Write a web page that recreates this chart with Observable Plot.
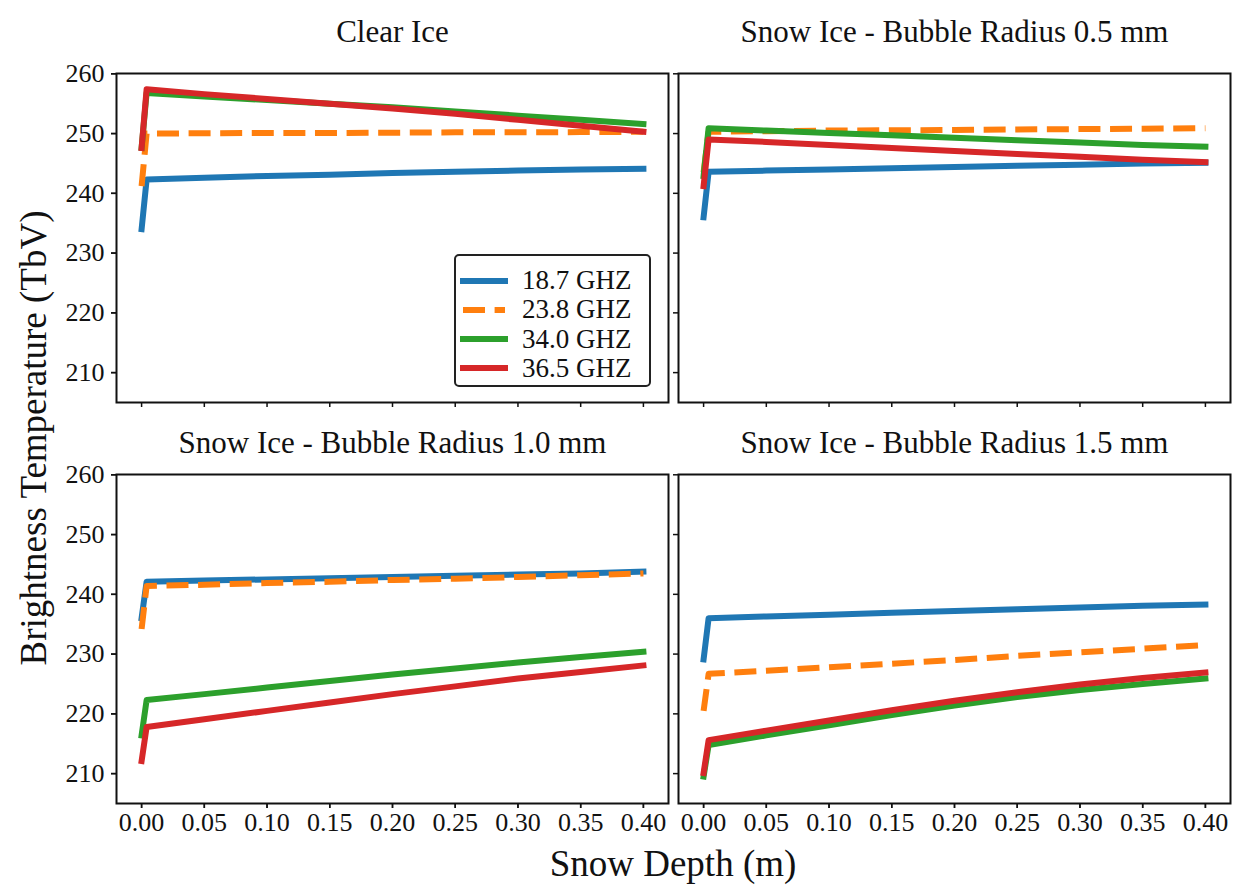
<!DOCTYPE html>
<html>
<head>
<meta charset="utf-8">
<script src="https://cdn.jsdelivr.net/npm/d3@7"></script>
<script src="https://cdn.jsdelivr.net/npm/@observablehq/plot@0.6"></script>
<style>
  body { margin: 0; background: white; }
  #wrap { position: relative; width: 1236px; height: 888px; font-family: 'Liberation Serif', serif; }
  #legend { position: absolute; left: 454px; top: 254px; width: 193px; height: 129px; border: 2px solid #222; border-radius: 5px; background: white; box-sizing: content-box; }
  .lrow { position: absolute; left: 0; height: 29px; display: flex; align-items: center; font-size: 27px; color: #111; white-space: nowrap; }
  .lrow svg { margin-left: 4px; margin-right: 14px; }
</style>
</head>
<body>
<div id="wrap"></div>
<script>
// ---- data ----
const depths = [0, 0.004, 0.05, 0.1, 0.15, 0.2, 0.25, 0.3, 0.35, 0.4];
const freqs = ["18.7 GHZ", "23.8 GHZ", "34.0 GHZ", "36.5 GHZ"];
const colors = ["#1f77b4", "#ff7f0e", "#2ca02c", "#d62728"];
const panelTitles = ["Clear Ice", "Snow Ice - Bubble Radius 0.5 mm", "Snow Ice - Bubble Radius 1.0 mm", "Snow Ice - Bubble Radius 1.5 mm"];
const xTicks = [0, 0.05, 0.1, 0.15, 0.2, 0.25, 0.3, 0.35, 0.4];
const yTicks = [210, 220, 230, 240, 250, 260];

// Clear Ice
const clear187 = [234.0, 242.3, 242.6, 242.9, 243.1, 243.4, 243.6, 243.8, 244.0, 244.1];
const clear238 = [241.2, 250.0, 250.05, 250.1, 250.1, 250.15, 250.2, 250.2, 250.25, 250.3];
const clear340 = [247.6, 256.8, 256.2, 255.6, 255.0, 254.4, 253.7, 253.0, 252.3, 251.6];
const clear365 = [247.6, 257.4, 256.6, 255.8, 255.0, 254.2, 253.3, 252.3, 251.3, 250.3];
// Snow Ice, bubble radius 0.5 mm
const r05_187 = [236.0, 243.6, 243.8, 244.0, 244.2, 244.4, 244.6, 244.8, 245.0, 245.1];
const r05_238 = [243.5, 250.3, 250.4, 250.5, 250.55, 250.6, 250.7, 250.75, 250.8, 250.9];
const r05_340 = [242.9, 250.9, 250.5, 250.1, 249.7, 249.3, 248.9, 248.5, 248.1, 247.8];
const r05_365 = [241.2, 249.0, 248.6, 248.1, 247.6, 247.1, 246.6, 246.1, 245.6, 245.2];
// Snow Ice, bubble radius 1.0 mm
const r10_187 = [236.0, 242.1, 242.3, 242.5, 242.7, 242.9, 243.1, 243.3, 243.5, 243.8];
const r10_238 = [234.2, 241.4, 241.6, 241.9, 242.1, 242.4, 242.6, 242.9, 243.2, 243.5];
const r10_340 = [216.4, 222.3, 223.3, 224.4, 225.5, 226.6, 227.6, 228.6, 229.5, 230.4];
const r10_365 = [212.1, 217.8, 219.1, 220.5, 221.9, 223.3, 224.6, 225.9, 227.0, 228.1];
// Snow Ice, bubble radius 1.5 mm
const r15_187 = [229.1, 236.0, 236.3, 236.6, 236.9, 237.2, 237.5, 237.8, 238.1, 238.3];
const r15_238 = [220.5, 226.7, 227.2, 227.8, 228.4, 229.0, 229.7, 230.3, 230.9, 231.5];
const r15_340 = [209.5, 214.8, 216.4, 218.1, 219.8, 221.4, 222.8, 224.0, 225.0, 225.9];
const r15_365 = [210.1, 215.6, 217.2, 218.9, 220.6, 222.2, 223.6, 224.9, 226.0, 226.9];

const series = [
  [clear187, clear238, clear340, clear365],
  [r05_187, r05_238, r05_340, r05_365],
  [r10_187, r10_238, r10_340, r10_365],
  [r15_187, r15_238, r15_340, r15_365]
];

// ---- build tidy table ----
const rows = [];
series.forEach((panel, pi) => {
  panel.forEach((vals, fi) => {
    vals.forEach((v, k) => rows.push({panel: pi, col: pi % 2, row: Math.floor(pi / 2), freq: freqs[fi], depth: depths[k], tb: v}));
  });
});
const panels = panelTitles.map((t, i) => ({title: t, col: i % 2, row: Math.floor(i / 2)}));

const lineMarks = freqs.map((f, fi) => Plot.line(rows.filter(d => d.freq === f), {
  x: "depth", y: "tb", fx: "col", fy: "row",
  stroke: colors[fi], strokeWidth: 6,
  strokeDasharray: fi === 1 ? "22,9.6" : null,
  strokeLinecap: fi === 1 ? "butt" : "square",
  strokeLinejoin: "round"
}));

const chart = Plot.plot({
  width: 1236, height: 888,
  marginLeft: 116, marginRight: 6, marginTop: 72.5, marginBottom: 84.7,
  style: "font-family: 'Liberation Serif', serif; font-size: 26px; background: white; color: #111;",
  x: {domain: [-0.02, 0.42]},
  y: {domain: [205, 260.05]},
  fx: {domain: [0, 1], paddingInner: 0.0178, paddingOuter: 0, axis: null},
  fy: {domain: [0, 1], paddingInner: 0.18, paddingOuter: 0, axis: null},
  marks: [
    Plot.axisX({ticks: xTicks, tickSize: 5, tickFormat: () => "", facetAnchor: null, label: null, strokeWidth: 1.5}),
    Plot.axisX({ticks: xTicks, tickSize: 5, tickPadding: 4, tickFormat: d3.format(".2f"), facetAnchor: "bottom", label: null, strokeWidth: 1.5, fontSize: 26}),
    Plot.axisY({ticks: yTicks, tickSize: 5, tickFormat: () => "", facetAnchor: null, label: null, strokeWidth: 1.5}),
    Plot.axisY({ticks: yTicks, tickSize: 5, tickPadding: 7, facetAnchor: "left", label: null, strokeWidth: 1.5, fontSize: 26}),
    ...lineMarks,
    Plot.frame({stroke: "#111", strokeWidth: 2}),
    Plot.text(panels.filter(d => d.row === 0), {fx: "col", fy: "row", text: "title", frameAnchor: "top", lineAnchor: "bottom", dy: -32, fontSize: 31}),
    Plot.text(panels.filter(d => d.row === 1), {fx: "col", fy: "row", text: "title", frameAnchor: "top", lineAnchor: "bottom", dy: -22, fontSize: 31})
  ]
});

const wrap = document.getElementById("wrap");
wrap.appendChild(chart);

// shared axis labels
const svg = d3.select(chart);
svg.append("text")
  .attr("transform", "translate(46,438) rotate(-90)")
  .attr("text-anchor", "middle")
  .attr("font-size", 37)
  .attr("fill", "#111")
  .text("Brightness Temperature (TbV)");
svg.append("text")
  .attr("x", 673).attr("y", 876)
  .attr("text-anchor", "middle")
  .attr("font-size", 37)
  .attr("fill", "#111")
  .text("Snow Depth (m)");

// legend inside the Clear Ice panel
const legend = document.createElement("div");
legend.id = "legend";
freqs.forEach((f, i) => {
  const r = document.createElement("div");
  r.className = "lrow";
  r.style.top = (10 + i * 29.3) + "px";
  const dash = i === 1 ? 'stroke-dasharray="22,9.6"' : "";
  const cap = i === 1 ? "butt" : "square";
  r.innerHTML = `<svg width="48" height="12"><line x1="3" y1="6" x2="45" y2="6" stroke="${colors[i]}" stroke-width="6" stroke-linecap="${cap}" ${dash}/></svg><span>${f}</span>`;
  legend.appendChild(r);
});
wrap.appendChild(legend);
</script>
</body>
</html>
